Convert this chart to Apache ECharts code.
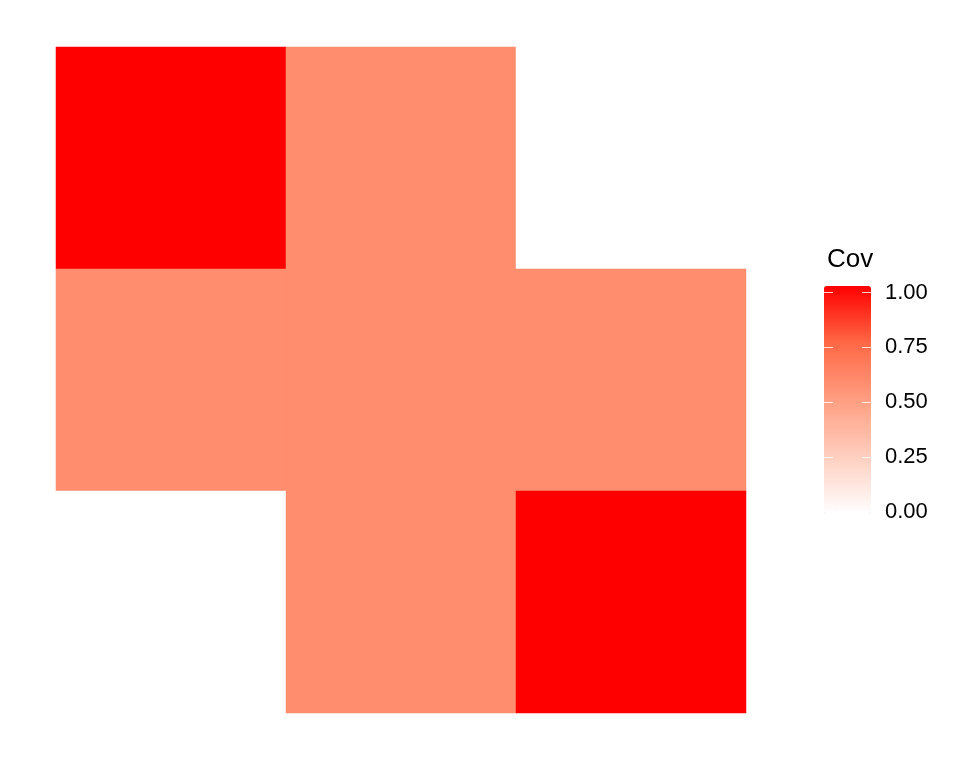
<!DOCTYPE html>
<html lang="en">
<head>
    <meta charset="UTF-8">
    <title>Cov</title>
    <style>
        html, body { margin: 0; padding: 0; background: #fff; }
        #box { width: 960px; height: 768px; }
    </style>
</head>
<body>
    <div id="box"></div>
<script src="https://cdn.jsdelivr.net/npm/echarts@6/dist/echarts.min.js"></script>
<script>
    // data
    var xCats = ['1', '2', '3'];
    var yCats = ['1', '2', '3'];
    var covRow1 = [1, 0.58, 0];
    var covRow2 = [0.58, 0.58, 0.58];
    var covRow3 = [0, 0.58, 1];
    var legendTicks = ['0.00', '0.25', '0.50', '0.75', '1.00'];

    var rows = [covRow1, covRow2, covRow3];
    var cells = [];
    rows.forEach(function (row, yi) {
        row.forEach(function (v, xi) {
            cells.push([xi, yi, v]);
        });
    });

    var box = echarts.init(document.getElementById('box'));
    var font = 'Liberation Sans, Arial, sans-serif';
    function ticks() {
        return { show: true, inside: true, length: 9, lineStyle: { color: 'rgba(255,255,255,0.8)', width: 1 } };
    }
    var option = {
        backgroundColor: '#fff',
        animation: false,
        title: {
            text: 'Cov',
            left: 822,
            top: 242,
            textStyle: { fontFamily: font, fontSize: 26, fontWeight: 'normal', color: '#000' }
        },
        grid: [
            { left: 56, top: 47, width: 690, height: 666 },
            { left: 824, top: 292.5, width: 47, height: 219 }
        ],
        xAxis: [
            { type: 'category', data: xCats, gridIndex: 0, show: false },
            { type: 'value', gridIndex: 1, show: false, min: 0, max: 1 }
        ],
        yAxis: [
            { type: 'category', data: yCats, gridIndex: 0, inverse: true, show: false },
            {
                type: 'value', gridIndex: 1, min: 0, max: 1, interval: 0.25,
                position: 'right', z: 10,
                splitLine: { show: false },
                axisLine: { show: false, onZero: false },
                axisTick: { show: false },
                axisLabel: {
                    margin: 14, color: '#000', fontFamily: font, fontSize: 22,
                    formatter: function (v) { return legendTicks[Math.round(v * 4)]; }
                }
            },
            {
                type: 'value', gridIndex: 1, min: 0, max: 1, interval: 0.25,
                position: 'left', z: 10,
                splitLine: { show: false },
                axisLine: { show: false, onZero: false },
                axisTick: ticks(),
                axisLabel: { show: false }
            },
            {
                type: 'value', gridIndex: 1, min: 0, max: 1, interval: 0.25,
                position: 'left', offset: -38, z: 10,
                splitLine: { show: false },
                axisLine: { show: false, onZero: false },
                axisTick: ticks(),
                axisLabel: { show: false }
            }
        ],
        visualMap: {
            type: 'continuous',
            min: 0,
            max: 1,
            seriesIndex: 0,
            calculable: false,
            realtime: false,
            left: 824,
            top: 286,
            itemWidth: 47,
            itemHeight: 228,
            padding: 0,
            text: null,
            showLabel: false,
            z: 2,
            inRange: {
                color: ['#FFFFFF', '#FFCFBF', '#FF9E81', '#FF6846', '#FF0000']
            }
        },
        series: [
            {
                type: 'heatmap',
                xAxisIndex: 0,
                yAxisIndex: 0,
                data: cells,
                itemStyle: { borderWidth: 0 },
                emphasis: { disabled: true }
            }
        ]
    };
    box.setOption(option);
</script>
</body>
</html>
